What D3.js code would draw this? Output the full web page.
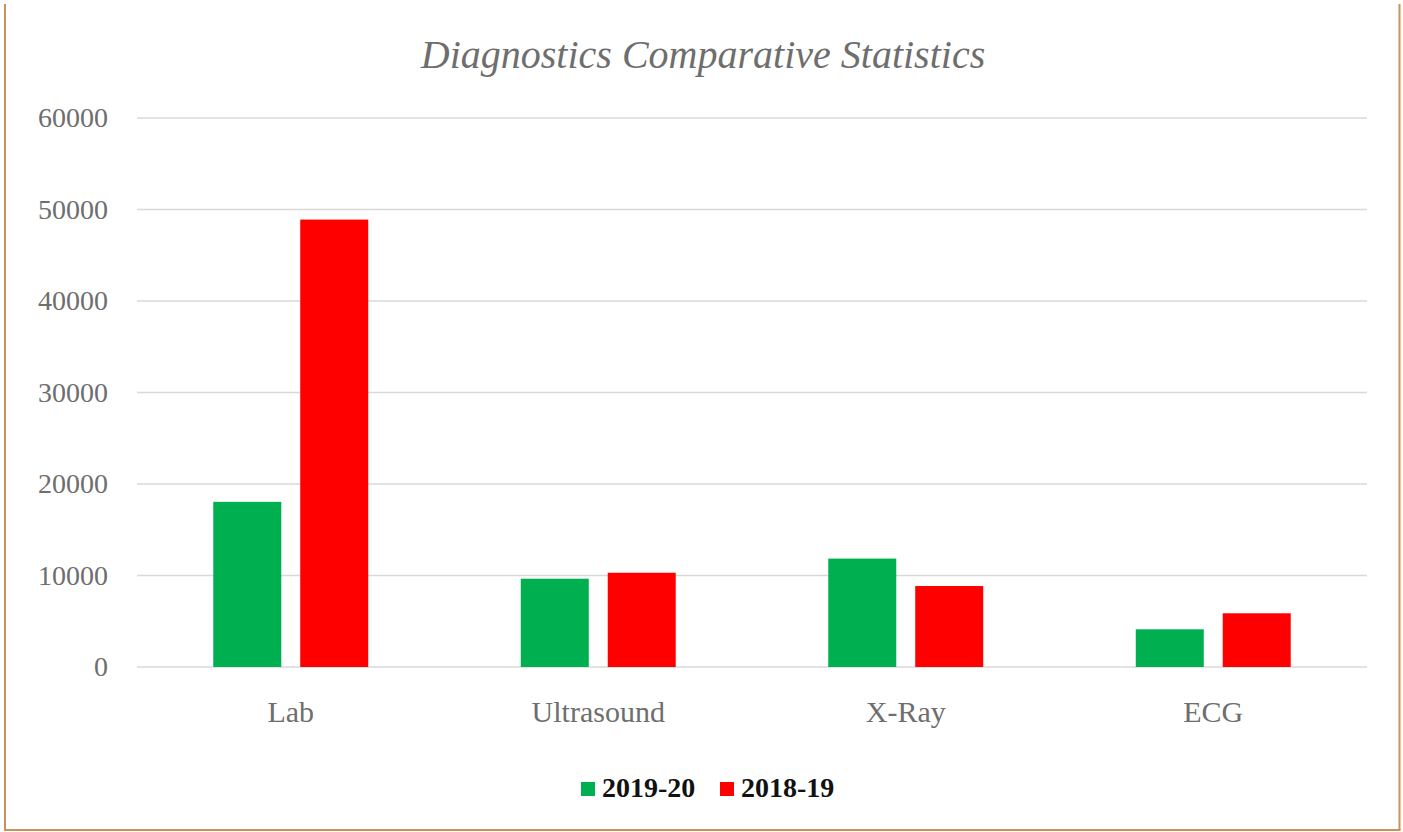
<!DOCTYPE html>
<html>
<head>
<meta charset="utf-8">
<script src="https://cdn.jsdelivr.net/npm/d3@7"></script>
<style>
  html, body { margin: 0; padding: 0; background: #fff; }
  svg { display: block; }
</style>
</head>
<body>
<svg id="chart" width="1403" height="832"></svg>
<script>
// chart data
var categories = ["Lab", "Ultrasound", "X-Ray", "ECG"];
var seriesNames = ["2019-20", "2018-19"];
var values2019 = [18050, 9650, 11850, 4120];
var values2018 = [48900, 10300, 8850, 5870];
var yTicks = [0, 10000, 20000, 30000, 40000, 50000, 60000];
var seriesColors = ["#00B050", "#FF0000"];

var W = 1403, H = 832;
var margin = { left: 137, right: 36, top: 118, bottom: 165 };

var svg = d3.select("#chart");

// frame (left, right and bottom edges)
var frameColor = "#C8935A";
svg.append("line").attr("x1", 5).attr("x2", 5).attr("y1", 4).attr("y2", 830)
  .attr("stroke", frameColor).attr("stroke-width", 2);
svg.append("line").attr("x1", 1399.5).attr("x2", 1399.5).attr("y1", 4).attr("y2", 830)
  .attr("stroke", frameColor).attr("stroke-width", 2);
svg.append("line").attr("x1", 4).attr("x2", 1400.5).attr("y1", 830).attr("y2", 830)
  .attr("stroke", frameColor).attr("stroke-width", 2);

// scales
var x0 = d3.scaleBand()
  .domain(categories)
  .range([margin.left, W - margin.right])
  .paddingInner(0.496)
  .paddingOuter(0.248);

var x1 = d3.scaleBand()
  .domain(seriesNames)
  .range([0, x0.bandwidth()])
  .paddingInner(0.218);

var y = d3.scaleLinear()
  .domain([0, 60000])
  .range([H - margin.bottom, margin.top]);

// gridlines
svg.append("g")
  .selectAll("line")
  .data(yTicks)
  .enter()
  .append("line")
  .attr("x1", margin.left)
  .attr("x2", W - margin.right)
  .attr("y1", function (d) { return y(d); })
  .attr("y2", function (d) { return y(d); })
  .attr("stroke", "#D9D9D9")
  .attr("stroke-width", 1.5);

// y axis labels
var yAxis = d3.axisLeft(y).tickValues(yTicks).tickSize(0).tickPadding(29)
  .tickFormat(d3.format("d"));
var yg = svg.append("g").attr("transform", "translate(" + margin.left + ",0)").call(yAxis);
yg.select(".domain").remove();
yg.selectAll("text")
  .attr("font-family", "Liberation Serif, serif")
  .attr("font-size", 28)
  .attr("fill", "#6E6E6E");

// x axis labels
var xAxis = d3.axisBottom(x0).tickSize(0).tickPadding(34);
var xg = svg.append("g").attr("transform", "translate(0," + y(0) + ")").call(xAxis);
xg.select(".domain").remove();
xg.selectAll("text")
  .attr("font-family", "Liberation Serif, serif")
  .attr("font-size", 30)
  .attr("fill", "#6E6E6E");

// bars
var rows = categories.map(function (c, i) {
  return { cat: c, vals: [values2019[i], values2018[i]] };
});

var group = svg.append("g")
  .selectAll("g")
  .data(rows)
  .enter()
  .append("g")
  .attr("transform", function (d) { return "translate(" + x0(d.cat) + ",0)"; });

group.selectAll("rect")
  .data(function (d) {
    return d.vals.map(function (v, j) { return { name: seriesNames[j], value: v, color: seriesColors[j] }; });
  })
  .enter()
  .append("rect")
  .attr("x", function (d) { return x1(d.name); })
  .attr("width", x1.bandwidth())
  .attr("y", function (d) { return y(d.value); })
  .attr("height", function (d) { return y(0) - y(d.value); })
  .attr("fill", function (d) { return d.color; });

// title
svg.append("text")
  .attr("x", 703)
  .attr("y", 68)
  .attr("text-anchor", "middle")
  .attr("font-family", "Liberation Serif, serif")
  .attr("font-style", "italic")
  .attr("font-size", 40)
  .attr("fill", "#6E6E6E")
  .text("Diagnostics Comparative Statistics");

// legend
var legendX = [581, 720];
var legend = svg.append("g")
  .selectAll("g")
  .data(seriesNames)
  .enter()
  .append("g")
  .attr("transform", function (d, i) { return "translate(" + legendX[i] + ",782)"; });

legend.append("rect")
  .attr("width", 14)
  .attr("height", 14)
  .attr("fill", function (d, i) { return seriesColors[i]; });

legend.append("text")
  .attr("x", 21)
  .attr("y", 15)
  .attr("font-family", "Liberation Serif, serif")
  .attr("font-weight", "bold")
  .attr("font-size", 28)
  .attr("fill", "#111")
  .text(function (d) { return d; });
</script>
</body>
</html>
